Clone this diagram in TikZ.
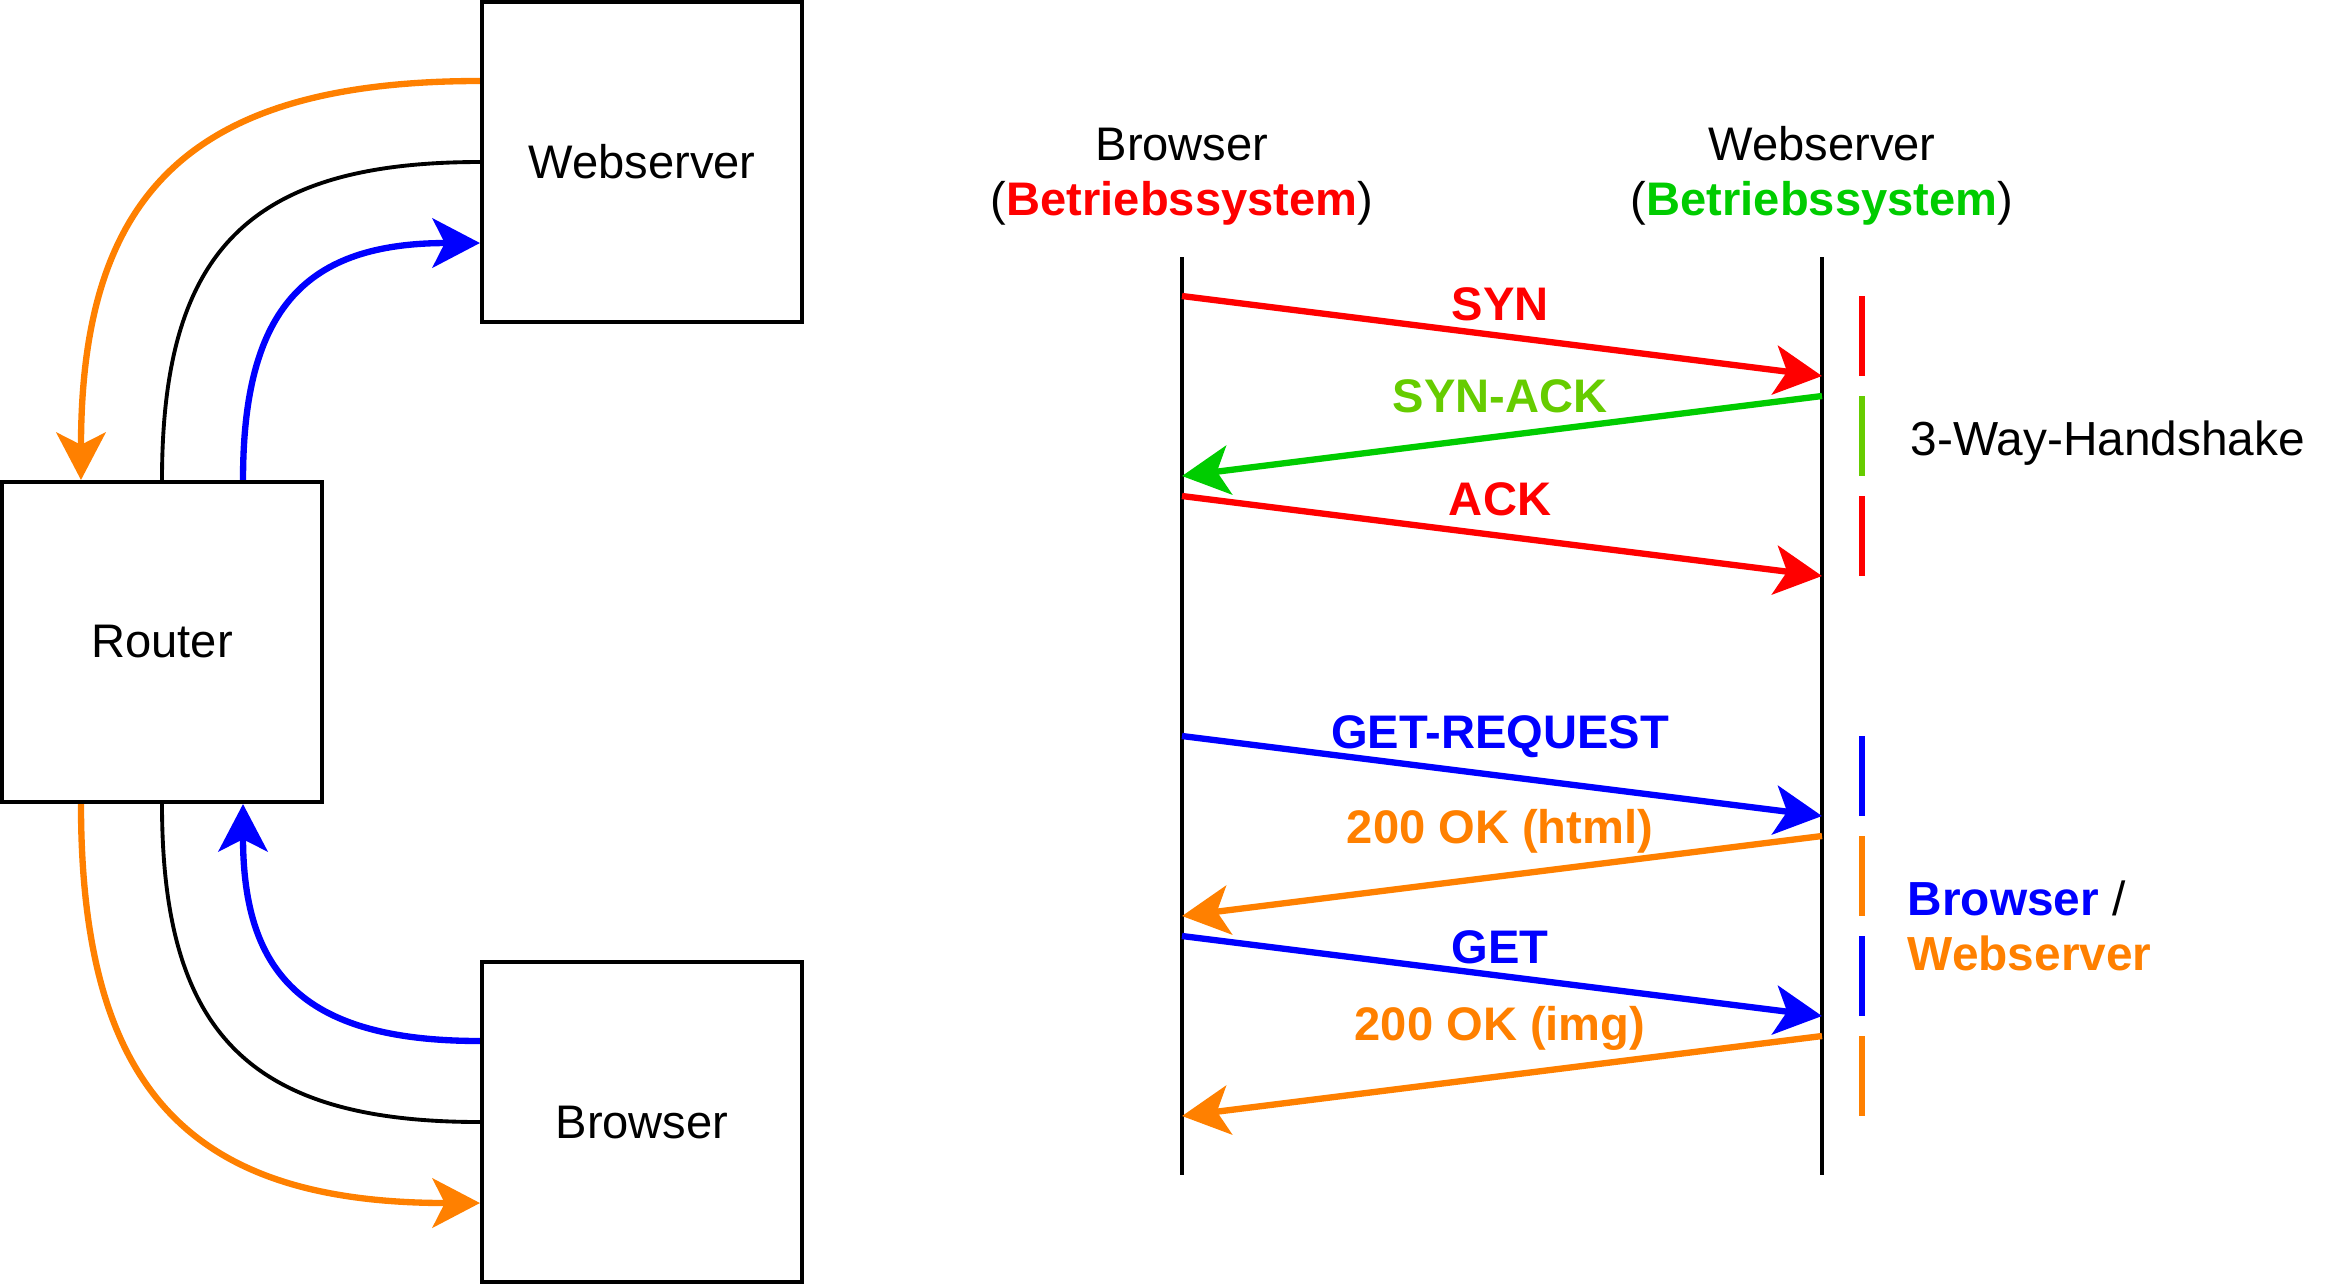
\documentclass[tikz,border=0pt]{standalone}
\usepackage{fontspec}
\setmainfont{Liberation Sans}
\usetikzlibrary{arrows.meta, calc}
\definecolor{msgRed}{RGB}{255, 0, 0}
\definecolor{msgGreen}{RGB}{0, 204, 0}
\definecolor{lblGreen}{RGB}{102, 204, 0}
\definecolor{msgBlue}{RGB}{0, 0, 255}
\definecolor{msgOrange}{RGB}{255, 128, 0}

\begin{document}
\begin{tikzpicture}[x=0.01cm, y=-0.01cm,
    font=\fontsize{13.4}{16}\selectfont,
    box/.style={draw, line width=1.1pt, minimum width=3.2cm, minimum height=3.2cm, inner sep=0pt},
    tip/.style={-{Stealth[length=13.5pt, width=14pt, inset=3.5pt]}},
    hop/.style={tip, line width=1.8pt},
    link/.style={line width=1.1pt},
    life/.style={line width=1.1pt},
    msg/.style={tip, line width=1.8pt},
    bar/.style={line width=1.8pt},
    lbl/.style={anchor=base, font=\fontsize{13.4}{16}\selectfont\bfseries},
    side/.style={anchor=base west, inner sep=0pt, font=\fontsize{13.6}{16}\selectfont}]
        \useasboundingbox (0,0) rectangle (2328,1284);

        % left: the three boxes
        \node[box] (web) at (642,162) {Webserver};
        \node[box] (router) at (162,642) {Router};
        \node[box] (browser) at (642,1122) {Browser};

        % router <-> webserver
        \draw[hop, msgOrange] ($(web.north west)!0.25!(web.south west)$)
            .. controls +(-288,0) and +(0,-288) .. ($(router.north west)!0.25!(router.north east)$);
        \draw[link] (web.west) .. controls +(-230,0) and +(0,-230) .. (router.north);
        \draw[hop, msgBlue] ($(router.north west)!0.75!(router.north east)$)
            .. controls +(0,-173) and +(-173,0) .. ($(web.north west)!0.75!(web.south west)$);

        % router <-> browser
        \draw[hop, msgOrange] ($(router.south west)!0.25!(router.south east)$)
            .. controls +(0,288) and +(-288,0) .. ($(browser.north west)!0.75!(browser.south west)$);
        \draw[link] (router.south) .. controls +(0,230) and +(-230,0) .. (browser.west);
        \draw[hop, msgBlue] ($(browser.north west)!0.25!(browser.south west)$)
            .. controls +(-173,0) and +(0,173) .. ($(router.south west)!0.75!(router.south east)$);

        % right: sequence
        \node[anchor=base] (hBrowser) at (1182,160) {Browser};
        \node[anchor=base] (hBrowserOS) at (1182,215) {(\textcolor{msgRed}{\bfseries Betriebssystem})};
        \node[anchor=base] (hWeb) at (1822,160) {Webserver};
        \node[anchor=base] (hWebOS) at (1822,215) {(\textcolor{msgGreen}{\bfseries Betriebssystem})};

        \coordinate (bTop) at (1182,257);
        \coordinate (bEnd) at (1182,1175);
        \coordinate (wTop) at (1822,257);
        \coordinate (wEnd) at (1822,1175);
        \draw[life] (bTop) -- (bEnd);
        \draw[life] (wTop) -- (wEnd);

        \foreach \y/\from/\to/\acol/\tcol/\txt/\ly in {
            296/bTop/wTop/msgRed/msgRed/SYN/320,
            396/wTop/bTop/msgGreen/lblGreen/SYN-ACK/412,
            496/bTop/wTop/msgRed/msgRed/ACK/515,
            736/bTop/wTop/msgBlue/msgBlue/GET-REQUEST/748,
            836/wTop/bTop/msgOrange/msgOrange/200 OK (html)/843,
            936/bTop/wTop/msgBlue/msgBlue/GET/963,
            1036/wTop/bTop/msgOrange/msgOrange/200 OK (img)/1040} {
            \draw[msg, \acol] (\from |- 0,\y) -- (\to |- 0,\y+80);
            \draw[bar, \tcol] (1862,\y) -- (1862,\y+80);
            \node[lbl, text=\tcol] at (1500,\ly) {\txt};
        }

        \node[side] (shake) at (1910,455) {3-Way-Handshake};
        \node[side] (who) at (1907,915) {\textcolor{msgBlue}{\bfseries Browser} /};
        \node[side] (who2) at (1907,970) {\textcolor{msgOrange}{\bfseries Webserver}};
      \end{tikzpicture}
\end{document}
